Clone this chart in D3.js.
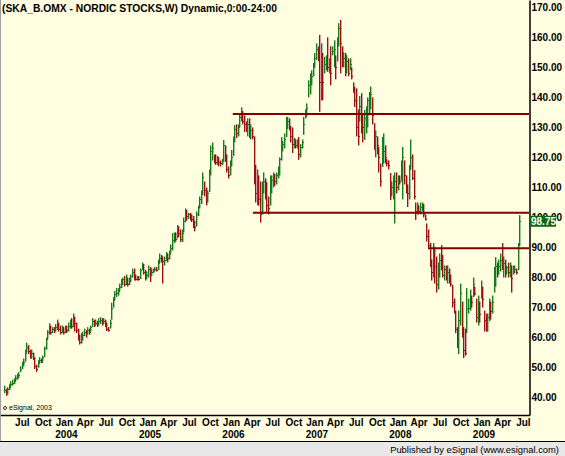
<!DOCTYPE html>
<html>
<head>
<meta charset="utf-8">
<script src="https://cdn.jsdelivr.net/npm/d3@7"></script>
<style>
body { margin: 0; background: #fffee0; }
svg { display: block; }
text { font-family: Arial, "Liberation Sans", sans-serif; }
</style>
</head>
<body>
<svg id="chart" width="565" height="456"></svg>
<script>
// weekly bars, SKA_B.OMX, from mid April 2003
var firstWeek = "2003-04-14";
var closes = [
    42.5,41.5,42.8,43.5,44.5,45,45.5,46.5,47,47.5,
    49.5,51,52,55,57,55.5,54,55,53,50.5,
    49.5,51.5,52.5,52,53.5,56.5,59.5,62,63.5,62,
    63,62.5,63.5,65,63,62,63,62,63,62.5,
    64,65.5,64,66.5,65,62.5,60,58.5,60,61,
    62,61.5,62.5,62,63.5,65.5,64.5,65,64.5,65.5,
    66,65,65.5,64.5,63,62.5,65,70,72.5,74.5,
    75,75.5,77,78.5,79.5,78,79,78,79,80.5,
    82,80,79.5,80,79.5,82.5,84,82,80,81,
    83,81,82,82.5,83,82.5,85,86.5,86,85.5,
    86,87,86.5,88,90,92.5,94,93,96,95,
    93,95,99,102,100.5,101,100,99.5,97.5,97,
    101,103.5,106,108,113.5,109,106,108,115,122,
    123,119.5,118.5,120,118.5,118,119,124,120,116,
    114,118,120,126,129.5,128,130,133.5,135,132,
    131,129.5,131,127.5,129,127,114,108,112,106,
    101,110,112,109,104,103,110,112.5,113,112,
    114,116,119.5,124,124.5,126,131,132,130.5,127,
    124.5,125,124,125,121,123.5,125,131,134.5,136.5,
    144,145,147,150,153,156,154,145,152,145,
    151,152,150,151.5,148,155.5,156,150,158,163,
    158,152,153,151,152,148,151,147,142,139,
    130,127,137,132,130,133,136,139,140,141,
    134,125,127,124,120,112,120,122,120,118,
    117.5,108,110,111,112,110,113,112,118,120,
    114,110,108,116,120,113,107,102,104,102,
    103.5,104,101,99.5,94,91,85,82,88,84,
    78,82,86,84,81,83,80,82,81,78,
    72,69,63,58,66,75,62,56,55,70,
    70,73,72,78,75,67,70,68,77,73,
    66,64,67,71,69,72,81,84,82,84,
    86,84,85,82,83.5,82,84,80,82.5,83,
    82,90,98.75
];
var highs = [
    44,43,43.5,44.5,45.5,46,46.5,47.5,48,48.5,
    50.5,52,53,56,58.3,57.5,56,56,55,53.5,
    51,52.5,53.5,53,54,57,60,62.5,64.8,64,
    63.5,63.5,64.5,66,65,64,64,63.5,64,64,
    65,66,66.5,68,67,65,63,61,61.5,62,
    63,62.5,63.5,63,64,66.5,66,66,65.5,66.5,
    66.8,66.5,66.5,66,65,63.5,66,71.6,73.5,75.5,
    76.5,76.5,78,79.5,80,80.5,81,80,80,81,
    83,83,81,80.5,80.5,83,85,84.5,82.5,82,
    84,83.5,83,83,83.5,83.5,86,88,87.5,87,
    87,88.5,88,89,91,94.8,95,95,97.5,97,
    96,96,100,103,102.5,101.5,101.5,101,100.5,99,
    102,104,107,109,115,112,110,109,116,124,
    125,121,121,120.5,120,119,119.5,125.8,124,121,
    117,119,122.5,127,130.8,131,131,134.5,136.7,135.5,
    134,132,133,133,131,130,127,117.5,116,114,
    112,112,115,113,111.8,107,114,114,115,114.5,
    115,117,120,126.8,125.5,128,133.5,133.5,133,130.5,
    130,126.5,126,126,126.8,124.5,126,133.5,136,138,
    145.7,148,149,151.5,154.8,158,157,160.8,158,154.8,
    153.5,154,160,153,157,157,159,154,160,164.7,
    165.8,157,155,154.8,154,153,153,150,145,143.5,
    143,136,140.5,141.4,134.8,135.8,137,140,141.8,143.6,
    140,131.4,129,127,123.5,118,126.8,128,124,119.5,
    119,114.8,112,114,115,115,114,114,119,123.5,
    119,114,111,117.5,126,121,115.8,105,105,104,
    105,105,104.5,101,98,96,91.5,86,91.5,90,
    87,85,88,90.8,87.5,84,84,84,83,81,
    77.5,73,69,63.5,69,78,72,63.5,63,76.5,
    73,76,74,80,77,73,74,72,79,77,
    69,68,68,73,72,74,83.5,86.8,85,86,
    88,91.5,87,86,84,85,85,84,84,84,
    83,91.5,100.8
];
var lows = [
    41.5,40.6,41,42.5,43.5,44,44.5,45.5,46,46.5,
    48.5,49.5,50.5,52,55,54.5,53,53,52.5,49.5,
    48.6,50,51.5,51.5,52,53.5,56,59.5,61,61,
    61.5,61.5,62,62.5,62,61,61.5,61,61.5,61.5,
    62,63,63,63.5,62,61.5,59,57.7,58,59,
    60.5,60,61,61,62,63.5,63.5,64,63.5,64,
    64.5,64,64.5,63.5,62.2,62,63,66,70,72.5,
    73.5,74,75.5,76.5,77.5,77,77.5,77,77.5,78.5,
    80,79,79,79,79,79.5,82.5,81,79,79.5,
    80,78.5,80.5,81.5,82,82,82.5,84.8,85,78,
    84,85.5,85,86,88,89,91.5,92,93,93.5,
    91.8,91.8,95,98.5,99,99.5,99,98.5,96.5,95.4,
    97,100.5,103,104.5,107.5,107,104,105,108.5,114,
    119,118,117.5,117.5,117,117,117.5,118.5,118.5,115,
    113,114,117,120.5,125,126.5,127,130,132,131,
    128.5,128.5,127,126.5,126,126,111,105,104,104,
    98.3,101,108,106,101.5,101,104,108,110,110.5,
    111,113,114,119,122,123,126.8,129.5,129,125,
    121.5,123,123,123,119.2,120,123,127.5,133,133.5,
    140,141,144,147,150,152.5,152,135.2,139,139,
    148,149,148.5,148,144,154,150,146,152,157,
    148,150,150,147,148,147,149,146,141.5,136.8,
    127,124,132,128,125,125.8,128,130,134,136,
    131,122.5,120,121,115,110.3,116.8,118,118,117,
    116,105.8,107,106,98,108,109,111,112,106,
    111,108,103.5,106,116,112.5,106,99.2,101,101,
    101,102,100,99,92,90,83.5,79,80,78,
    75,76,80,82.4,80,79,79,78,78,77,
    70,68,61.5,56.5,54.5,64,60,53.2,54,61.5,
    68,69,70,73.5,74,65,64,65,73,70,
    62,62,62,65.5,66,68,75,77,80,81,
    82,82.5,80,80,81,80,80,75,81,81.5,
    81,82.5,90.5
];
var priceTicks = [40, 50, 60, 70, 80, 90, 100, 110, 120, 130, 140, 150, 160, 170];
// horizontal support / resistance lines: level and the week they start
var lineLevels = [134.5, 101.6, 89.8];
var lineStarts = ["2006-01-09", "2006-04-07", "2008-05-12"];
var title = "(SKA_B.OMX - NORDIC STOCKS,W) Dynamic,0:00-24:00";
var lastLabel = "98.75";

var parse = d3.timeParse("%Y-%m-%d");
var start = parse(firstWeek);
var dates = closes.map(function(d, i){ return d3.timeWeek.offset(start, i); });

var plotRight = 529, plotBottom = 415;

var svg = d3.select("#chart");
svg.append("rect").attr("width", 565).attr("height", 456).attr("fill", "#fffee0");

var x = d3.scaleTime()
    .domain([dates[0], dates[dates.length - 1]])
    .range([4, 519.2]);
var y = d3.scaleLinear()
    .domain([34.23, 172.43])
    .range([plotBottom, 0]);

// bars
var bars = svg.append("g").attr("id", "bars");
closes.forEach(function(c, i){
    var up = i == 0 || c >= closes[i - 1];
    var px = Math.round(x(dates[i]));
    var light = up ? "#9fca9f" : "#d9a0a0";
    var dark = up ? "#167a16" : "#9a1010";
    bars.append("line")
        .attr("x1", px + 1.5).attr("x2", px + 1.5)
        .attr("y1", y(highs[i])).attr("y2", y(lows[i]))
        .attr("stroke", light).attr("stroke-width", 1);
    bars.append("line")
        .attr("x1", px + 0.5).attr("x2", px + 0.5)
        .attr("y1", y(highs[i])).attr("y2", y(lows[i]))
        .attr("stroke", dark).attr("stroke-width", 1);
    bars.append("line")
        .attr("x1", px).attr("x2", px + 2)
        .attr("y1", Math.round(y(c)) + 0.5).attr("y2", Math.round(y(c)) + 0.5)
        .attr("stroke", dark).attr("stroke-width", 1);
});

// level lines
svg.append("g").selectAll("line")
    .data(lineLevels)
    .enter().append("line")
    .attr("x1", function(d, i){ return x(parse(lineStarts[i])); })
    .attr("x2", plotRight)
    .attr("y1", function(d){ return y(d); })
    .attr("y2", function(d){ return y(d); })
    .attr("stroke", "#800000")
    .attr("stroke-width", 2);

// right price axis
var yAxisG = svg.append("g")
    .attr("transform", "translate(" + (plotRight + 0.5) + ",0)")
    .call(d3.axisRight(y).tickValues(priceTicks).tickSize(0).tickSizeOuter(0)
        .tickPadding(2).tickFormat(d3.format(".2f")));
yAxisG.select(".domain").attr("stroke", "#000").attr("stroke-width", 1.5);
yAxisG.selectAll("text")
    .attr("font-size", "10px").attr("font-weight", "bold").attr("fill", "#000")
    .attr("font-family", "Arial, 'Liberation Sans', sans-serif");

// last price marker
var ly = y(closes[closes.length - 1]);
svg.append("rect")
    .attr("x", plotRight + 1).attr("y", ly - 5.5)
    .attr("width", 26).attr("height", 11)
    .attr("fill", "#0a6a0a");
svg.append("text")
    .attr("x", plotRight + 2).attr("y", ly + 4)
    .attr("font-size", "10px").attr("font-weight", "bold").attr("fill", "#fff")
    .text(lastLabel);

// bottom time axis
svg.append("line")
    .attr("x1", 0).attr("x2", plotRight + 1)
    .attr("y1", plotBottom + 0.5).attr("y2", plotBottom + 0.5)
    .attr("stroke", "#000").attr("stroke-width", 1.5);

var monthTicks = d3.timeMonth.range(new Date(2003, 6, 1), new Date(2009, 6, 2), 3);
var yearTicks = d3.timeYear.range(new Date(2004, 0, 1), new Date(2009, 0, 2));

var monthAxis = svg.append("g")
    .attr("transform", "translate(0," + (plotBottom + 1) + ")")
    .call(d3.axisBottom(x).tickValues(monthTicks).tickSize(0).tickPadding(3)
        .tickFormat(d3.timeFormat("%b")));
var yearAxis = svg.append("g")
    .attr("transform", "translate(2," + (plotBottom + 13) + ")")
    .call(d3.axisBottom(x).tickValues(yearTicks).tickSize(0).tickPadding(3)
        .tickFormat(d3.timeFormat("%Y")));
[monthAxis, yearAxis].forEach(function(g){
    g.select(".domain").remove();
    g.selectAll("text")
        .attr("font-size", "10px").attr("font-weight", "bold").attr("fill", "#000")
        .attr("font-family", "Arial, 'Liberation Sans', sans-serif");
});

// left frame edge
svg.append("line")
    .attr("x1", 0.5).attr("x2", 0.5).attr("y1", 0).attr("y2", 441)
    .attr("stroke", "#a0a0a0");

// title
svg.append("text")
    .attr("x", 2).attr("y", 12)
    .attr("font-size", "10.3px").attr("font-weight", "bold")
    .text(title);

// copyright
svg.append("circle").attr("cx", 5).attr("cy", 408).attr("r", 1.5)
    .attr("fill", "none").attr("stroke", "#000").attr("stroke-width", 0.8);
svg.append("text")
    .attr("x", 9).attr("y", 410)
    .attr("font-size", "7px")
    .text("eSignal, 2003");

// footer
svg.append("line")
    .attr("x1", 0).attr("x2", 565).attr("y1", 441.5).attr("y2", 441.5)
    .attr("stroke", "#000");
svg.append("rect")
    .attr("x", 0).attr("y", 442).attr("width", 565).attr("height", 14)
    .attr("fill", "#e8e8e8");
svg.append("text")
    .attr("x", 559).attr("y", 452.5)
    .attr("text-anchor", "end")
    .attr("font-size", "9.4px")
    .text("Published by eSignal (www.esignal.com)");
</script>
</body>
</html>
